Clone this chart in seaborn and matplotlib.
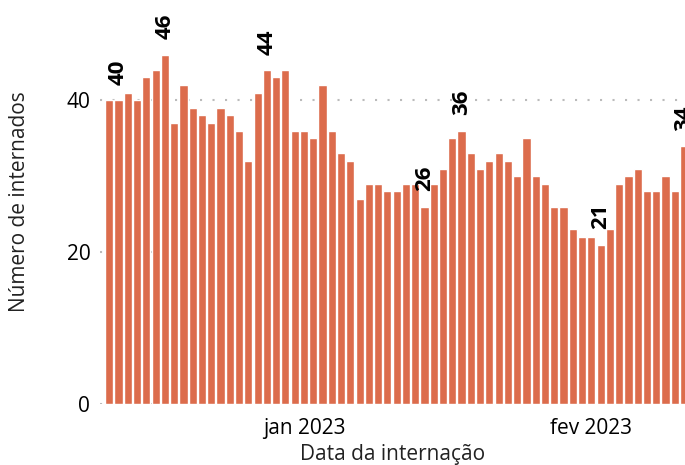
import pandas as pd
import matplotlib.pyplot as plt
import seaborn as sns

# Internações diárias
data_inicio = '2022-12-11'
data_fim = '2023-02-11'
internados = [40, 40, 41, 40, 43, 44, 46, 37, 42, 39, 38, 37, 39, 38, 36, 32,
              41, 44, 43, 44, 36, 36, 35, 42, 36, 33, 32, 27, 29, 29, 28, 28,
              29, 29, 26, 29, 31, 35, 36, 33, 31, 32, 33, 32, 30, 35, 30, 29,
              26, 26, 23, 22, 22, 21, 23, 29, 30, 31, 28, 28, 30, 28, 34]
# barras com rótulo (picos e vales)
idx_rotulos = [1, 6, 17, 34, 38, 53, 62]
ticks_mes = ['2023-01-01', '2023-02-01']
nomes_mes = ['jan 2023', 'fev 2023']

datas = pd.date_range(data_inicio, data_fim)
df = pd.DataFrame({'data': datas.strftime('%Y-%m-%d'), 'n': internados})

sns.set_theme(style='white')
plt.rcParams['font.family'] = ['Open Sans', 'DejaVu Sans']

fig = plt.figure(figsize=(6.85, 4.65), dpi=100)
ax = fig.add_axes([100 / 685, 61 / 465, 585 / 685, 404 / 465])

sns.barplot(data=df, x='data', y='n', color='#DC6C4C', saturation=1,
            width=0.88, ax=ax)

for i in idx_rotulos:
    ax.annotate(str(internados[i]), (i, internados[i]), xytext=(0, 11),
                textcoords='offset points', rotation=90, ha='center',
                va='bottom', fontsize=16, fontweight='bold', color='black',
                annotation_clip=False)

ax.set_ylim(0, 53.2)
ax.set_xlim(-1, len(internados) - 0.9)
ax.set_yticks([0, 20, 40])
pos = [list(df['data']).index(t) for t in ticks_mes]
ax.set_xticks(pos)
ax.set_xticklabels(nomes_mes)
ax.tick_params(axis='both', length=0, labelsize=15, colors='black')
ax.tick_params(axis='x', pad=10)
ax.tick_params(axis='y', pad=7)

ax.yaxis.grid(True, linestyle=(0, (1, 5)), color='#bbbbbb', linewidth=1.5)
ax.xaxis.grid(False)
ax.set_axisbelow(True)
sns.despine(ax=ax, left=True, bottom=True)

ax.set_xlabel('Data da internação', fontsize=15, labelpad=4, color='#222222')
ax.set_ylabel('Número de internados', fontsize=15, labelpad=26,
              color='#222222')

fig.savefig('out.png', dpi=100)
